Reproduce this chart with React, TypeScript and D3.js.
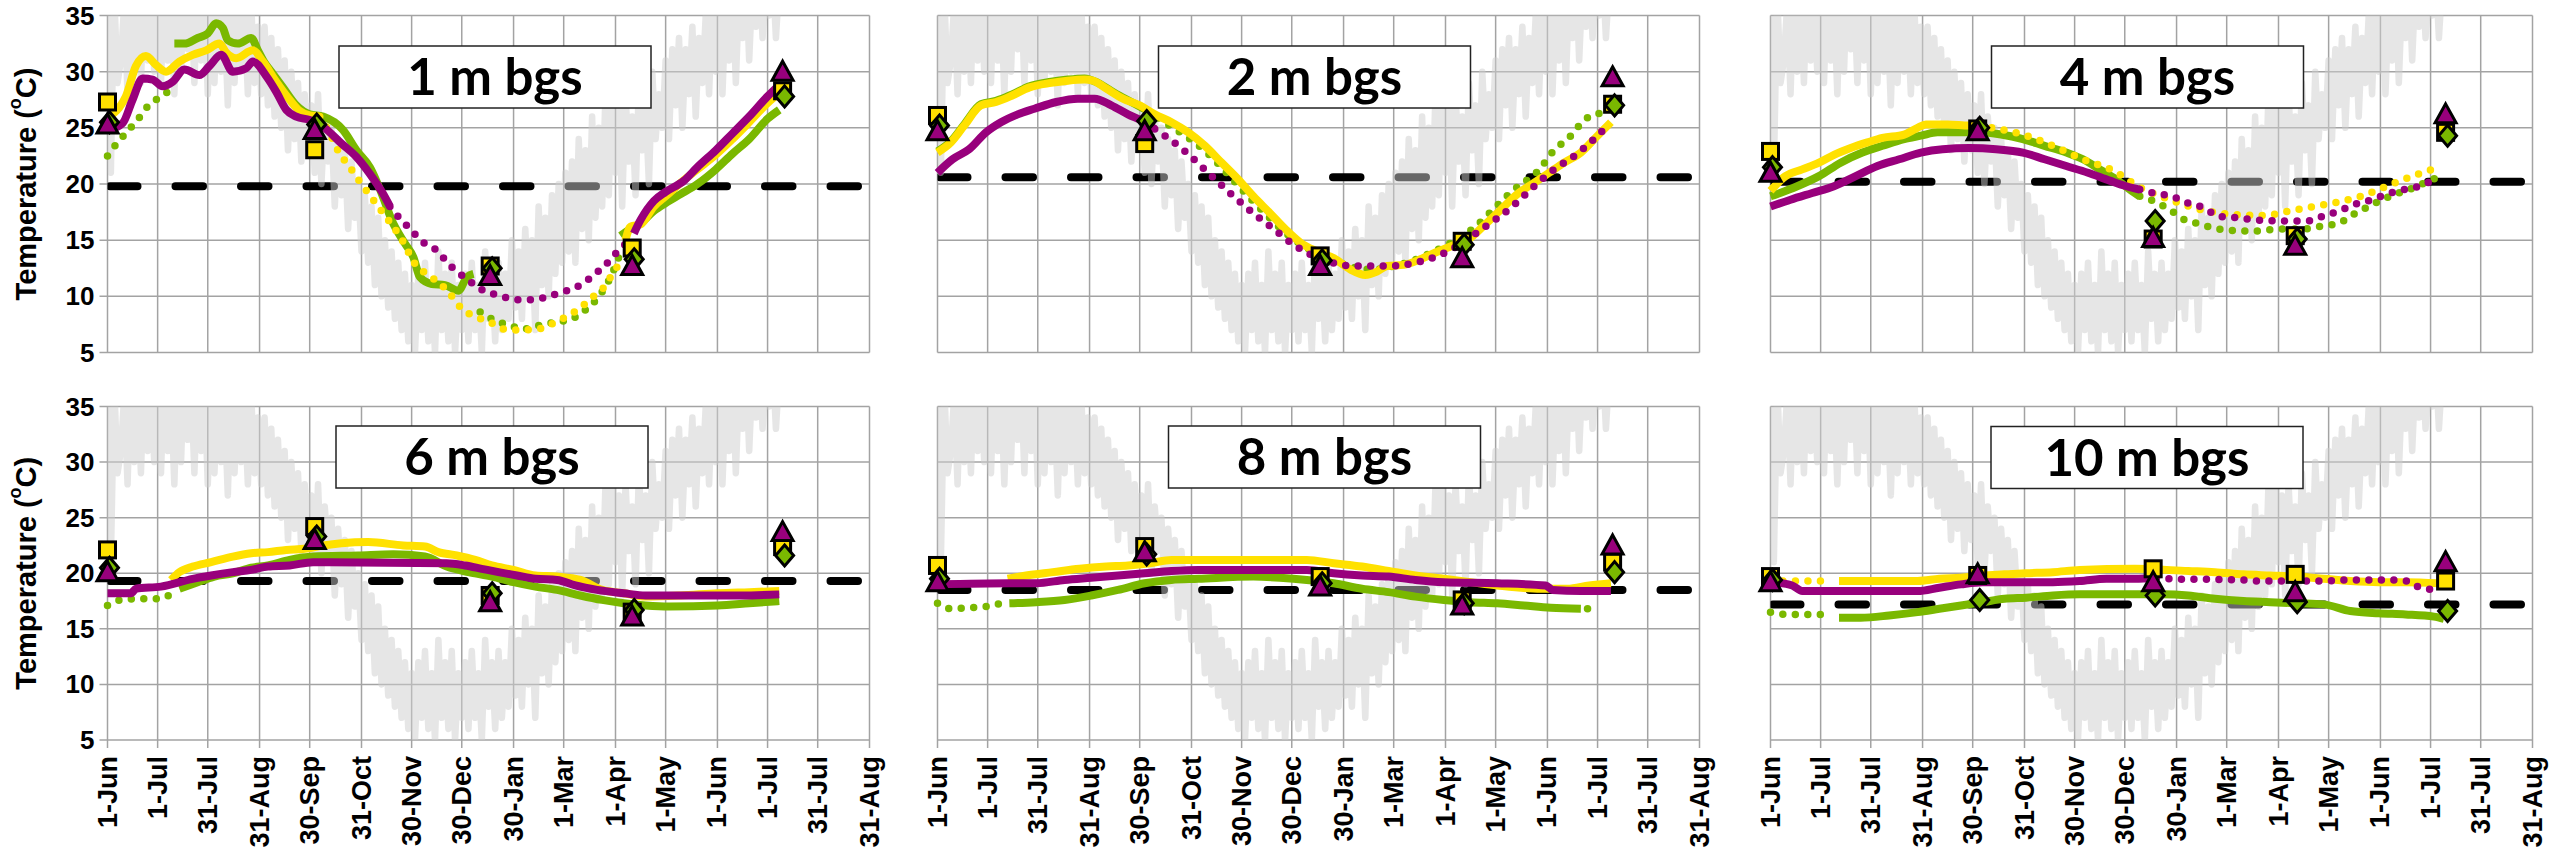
import React from "react";
import * as d3 from "d3";

type Pt = [string, number];

// ---------- shared axes ----------
const DOMAIN_START = "2014-06-01";
const DOMAIN_END = "2015-08-31";
const xTickDates = [
  "2014-06-01", "2014-07-01", "2014-07-31", "2014-08-31", "2014-09-30", "2014-10-31",
  "2014-11-30", "2014-12-30", "2015-01-30", "2015-03-01", "2015-04-01", "2015-05-01",
  "2015-06-01", "2015-07-01", "2015-07-31", "2015-08-31",
];
const yTicks = [5, 10, 15, 20, 25, 30, 35];
const panelTitles = ["1 m bgs", "2 m bgs", "4 m bgs", "6 m bgs", "8 m bgs", "10 m bgs"];
const dashLevels = [19.8, 20.6, 20.2, 19.3, 18.5, 17.2];
const markerDates = ["2014-06-01", "2014-10-03", "2015-01-16", "2015-04-11", "2015-07-10"];

// ---------- air temperature (sampled every 2 days from 1 Jun 2014) ----------
const airStart = "2014-06-01";
const airStepDays = 2;
const airTemp = [
  35, 21, 37, 29, 31, 36, 28, 38, 30, 37, 29, 38, 31, 36, 30,
  37, 29, 38, 31, 36, 28, 38, 30, 39, 32, 37, 29, 38, 31, 37, 28,
  36, 29, 37, 30, 35, 27, 37, 29, 36, 30, 35, 28, 36, 29, 34,
  28, 34, 27, 33, 26, 32, 25, 31, 23, 30, 24, 29, 22, 28, 23,
  27, 21, 28, 20, 26, 22, 25, 18, 24, 19, 23, 16, 22, 17, 20, 14,
  19, 13, 18, 11, 17, 10, 15, 9, 14, 8, 13, 7, 12, 6, 11,
  5, 12, 7, 13, 6, 11, 5, 14, 7, 12, 6, 13, 5, 11, 7,
  12, 6, 13, 7, 11, 5, 14, 8, 12, 6, 13, 7, 12, 8, 15, 9,
  14, 8, 16, 10, 15, 7, 18, 11, 17, 10, 19, 12, 20, 13,
  21, 14, 22, 13, 24, 16, 23, 15, 26, 17, 25, 18, 28, 19, 30,
  21, 27, 18, 28, 22, 26, 19, 29, 23, 27, 20, 30, 24, 28, 25,
  31, 24, 32, 27, 33, 25, 32, 28, 34, 26, 33, 29, 35, 28, 36, 30,
  37, 28, 36, 31, 38, 29, 37, 33, 39, 31, 38, 34, 39, 33, 38,
  35, 39, 33, 38, 36,
];

// ---------- 1 m ----------
const m1YellowSolid: Pt[][] = [
  [["2014-06-01", 25.8], ["2014-06-04", 26.2], ["2014-06-08", 26.8], ["2014-06-12", 27.8], ["2014-06-18", 30.5], ["2014-06-24", 31.4], ["2014-06-30", 30.6], ["2014-07-06", 30.0], ["2014-07-14", 30.9], ["2014-07-22", 31.5], ["2014-07-30", 31.9], ["2014-08-07", 32.5], ["2014-08-11", 31.7], ["2014-08-17", 31.2], ["2014-08-27", 31.9], ["2014-09-02", 30.9], ["2014-09-10", 29.1], ["2014-09-18", 27.5], ["2014-09-24", 26.5], ["2014-09-30", 26.1], ["2014-10-06", 26.0]],
  [["2015-04-07", 15.0], ["2015-04-10", 16.2], ["2015-04-16", 16.4], ["2015-04-24", 18.0], ["2015-05-01", 18.9], ["2015-05-10", 20.1], ["2015-05-20", 21.3], ["2015-05-31", 22.6], ["2015-06-10", 24.0], ["2015-06-20", 25.5], ["2015-07-01", 27.2], ["2015-07-08", 28.1]],
];
const m1YellowDotted: Pt[][] = [
  [["2014-10-06", 26.0], ["2014-10-11", 24.8], ["2014-10-18", 22.7], ["2014-10-24", 21.5], ["2014-10-30", 20.2], ["2014-11-10", 18.0], ["2014-11-16", 16.8], ["2014-11-24", 15.1], ["2014-12-02", 12.9], ["2014-12-10", 11.9], ["2014-12-18", 11.0], ["2014-12-23", 10.2], ["2014-12-30", 8.9], ["2015-01-07", 8.2], ["2015-01-16", 7.7], ["2015-01-24", 7.1], ["2015-02-04", 7.0], ["2015-02-14", 7.1], ["2015-02-24", 7.7], ["2015-03-04", 8.3], ["2015-03-12", 9.1], ["2015-03-18", 9.9], ["2015-03-25", 10.8], ["2015-03-31", 12.2], ["2015-04-06", 13.5]],
];
const m1GreenSolid: Pt[][] = [
  [["2014-07-11", 32.5], ["2014-07-17", 32.5], ["2014-07-25", 33.0], ["2014-07-31", 33.4], ["2014-08-05", 34.3], ["2014-08-09", 33.9], ["2014-08-12", 32.8], ["2014-08-18", 32.5], ["2014-08-26", 33.0], ["2014-08-30", 31.9], ["2014-09-03", 30.8], ["2014-09-07", 30.0], ["2014-09-14", 28.6], ["2014-09-22", 27.0], ["2014-09-30", 26.2], ["2014-10-08", 26.0], ["2014-10-20", 24.8], ["2014-10-28", 23.0], ["2014-11-05", 21.5], ["2014-11-13", 18.8], ["2014-11-18", 16.8], ["2014-11-26", 14.7], ["2014-12-01", 13.5], ["2014-12-05", 11.7], ["2014-12-12", 11.1], ["2014-12-20", 11.0], ["2014-12-28", 10.5], ["2015-01-02", 11.7], ["2015-01-06", 12.0]],
  [["2015-04-04", 15.4], ["2015-04-10", 16.0], ["2015-04-16", 16.5], ["2015-04-24", 17.6], ["2015-05-01", 18.3], ["2015-05-10", 19.1], ["2015-05-20", 20.0], ["2015-05-31", 21.3], ["2015-06-10", 22.7], ["2015-06-20", 24.0], ["2015-07-01", 25.8], ["2015-07-08", 26.6]],
];
const m1GreenDotted: Pt[][] = [
  [["2014-06-01", 22.5], ["2014-06-06", 23.5], ["2014-06-13", 24.7], ["2014-06-19", 25.7], ["2014-06-25", 26.9], ["2014-07-02", 27.7], ["2014-07-09", 28.4]],
  [["2015-01-10", 8.6], ["2015-01-18", 7.9], ["2015-01-28", 7.4], ["2015-02-05", 7.1], ["2015-02-14", 7.4], ["2015-02-24", 7.7], ["2015-03-06", 8.0], ["2015-03-14", 8.8], ["2015-03-21", 9.8], ["2015-03-29", 11.7], ["2015-04-03", 13.5]],
];
const m1PurpleSolid: Pt[][] = [
  [["2014-06-01", 25.1], ["2014-06-04", 25.0], ["2014-06-10", 25.4], ["2014-06-16", 27.5], ["2014-06-22", 29.4], ["2014-06-28", 29.3], ["2014-07-04", 28.7], ["2014-07-10", 29.1], ["2014-07-17", 30.2], ["2014-07-26", 29.7], ["2014-08-01", 30.5], ["2014-08-08", 31.5], ["2014-08-15", 30.0], ["2014-08-23", 30.3], ["2014-08-27", 30.9], ["2014-09-04", 29.6], ["2014-09-10", 28.2], ["2014-09-16", 26.6], ["2014-09-22", 26.0], ["2014-09-30", 25.7], ["2014-10-08", 25.1], ["2014-10-19", 23.6], ["2014-10-28", 22.4], ["2014-11-05", 20.9], ["2014-11-13", 19.1], ["2014-11-17", 18.0]],
  [["2015-04-12", 15.6], ["2015-04-16", 16.8], ["2015-04-24", 18.5], ["2015-05-01", 19.3], ["2015-05-12", 20.3], ["2015-05-20", 21.5], ["2015-05-31", 23.0], ["2015-06-10", 24.5], ["2015-06-20", 26.0], ["2015-07-01", 27.8], ["2015-07-08", 28.8]],
];
const m1PurpleDotted: Pt[][] = [
  [["2014-11-17", 18.0], ["2014-11-22", 17.1], ["2014-11-29", 16.0], ["2014-12-07", 14.8], ["2014-12-15", 14.1], ["2014-12-22", 12.9], ["2014-12-29", 12.0], ["2015-01-06", 11.1], ["2015-01-12", 10.5], ["2015-01-21", 10.1], ["2015-02-01", 9.7], ["2015-02-11", 9.7], ["2015-02-22", 10.1], ["2015-03-03", 10.5], ["2015-03-12", 11.1], ["2015-03-19", 11.9], ["2015-03-26", 12.8], ["2015-04-01", 13.8], ["2015-04-08", 14.8]],
];
const m1Square = [27.3, 23.05, 12.7, 14.3, 28.3];
const m1Diamond = [25.5, 25.3, 12.5, 13.3, 27.8];
const m1Triangle = [25.3, 24.8, 11.8, 12.7, 30.0];

// ---------- 2 m ----------
const m2YellowSolid: Pt[][] = [
  [["2014-06-01", 22.8], ["2014-06-09", 23.7], ["2014-06-17", 25.2], ["2014-06-27", 27.0], ["2014-07-06", 27.3], ["2014-07-16", 27.9], ["2014-07-26", 28.6], ["2014-08-08", 29.0], ["2014-08-18", 29.2], ["2014-08-28", 29.3], ["2014-09-02", 29.2], ["2014-09-10", 28.5], ["2014-09-20", 27.6], ["2014-09-30", 27.0], ["2014-10-09", 26.2], ["2014-10-19", 25.5], ["2014-10-29", 24.6], ["2014-11-08", 23.4], ["2014-11-18", 21.9], ["2014-11-28", 20.4], ["2014-12-07", 18.9], ["2014-12-17", 17.4], ["2014-12-26", 16.0], ["2015-01-04", 14.8], ["2015-01-14", 14.0], ["2015-01-24", 13.4], ["2015-02-03", 12.4], ["2015-02-12", 11.9], ["2015-02-19", 12.2], ["2015-02-25", 12.7], ["2015-03-07", 12.8], ["2015-03-17", 13.3], ["2015-03-26", 13.9], ["2015-04-05", 14.5], ["2015-04-15", 15.1], ["2015-04-24", 16.3], ["2015-05-04", 17.7], ["2015-05-14", 19.1], ["2015-05-24", 20.1], ["2015-06-02", 21.0], ["2015-06-11", 21.9], ["2015-06-21", 22.8], ["2015-07-01", 24.3], ["2015-07-09", 25.5]],
];
const m2YellowDotted: Pt[][] = [];
const m2GreenSolid: Pt[][] = [
  [["2014-06-01", 22.9], ["2014-06-09", 23.8], ["2014-06-17", 25.3], ["2014-06-27", 27.1], ["2014-07-06", 27.4], ["2014-07-16", 28.0], ["2014-07-26", 28.7], ["2014-08-08", 29.1], ["2014-08-18", 29.3], ["2014-08-28", 29.4], ["2014-09-05", 29.0], ["2014-09-15", 28.1], ["2014-09-25", 27.3], ["2014-10-05", 26.5]],
];
const m2GreenDotted: Pt[][] = [
  [["2014-10-05", 26.5], ["2014-10-20", 25.0], ["2014-11-01", 23.8], ["2014-11-12", 22.4], ["2014-11-24", 20.5], ["2014-12-06", 18.6], ["2014-12-18", 16.8], ["2014-12-30", 15.2], ["2015-01-12", 14.0], ["2015-01-24", 13.2], ["2015-02-05", 12.6], ["2015-02-17", 12.4], ["2015-03-01", 12.7], ["2015-03-13", 13.2], ["2015-03-25", 14.0], ["2015-04-06", 14.9], ["2015-04-18", 16.1], ["2015-04-30", 17.8], ["2015-05-12", 19.5], ["2015-05-22", 20.6], ["2015-05-28", 21.4], ["2015-06-02", 22.5], ["2015-06-08", 23.4], ["2015-06-15", 24.3], ["2015-06-20", 25.2], ["2015-06-26", 26.0], ["2015-07-03", 26.3]],
];
const m2PurpleSolid: Pt[][] = [
  [["2014-06-01", 21.0], ["2014-06-10", 22.2], ["2014-06-20", 23.1], ["2014-06-30", 24.6], ["2014-07-09", 25.5], ["2014-07-19", 26.2], ["2014-07-29", 26.7], ["2014-08-11", 27.3], ["2014-08-24", 27.6], ["2014-09-03", 27.6], ["2014-09-13", 27.0], ["2014-09-23", 26.2], ["2014-10-03", 25.5], ["2014-10-09", 24.9]],
];
const m2PurpleDotted: Pt[][] = [
  [["2014-10-09", 24.9], ["2014-10-15", 24.3], ["2014-10-28", 22.8], ["2014-11-10", 21.0], ["2014-11-23", 19.2], ["2014-12-07", 17.4], ["2014-12-20", 15.9], ["2015-01-01", 14.5], ["2015-01-17", 13.3], ["2015-02-06", 12.7], ["2015-02-25", 12.7], ["2015-03-17", 13.1], ["2015-04-05", 14.2], ["2015-04-21", 15.8], ["2015-05-11", 18.0], ["2015-05-24", 19.8], ["2015-06-05", 21.3], ["2015-06-18", 22.6], ["2015-07-01", 24.3], ["2015-07-07", 25.2]],
];
const m2Square = [26.1, 23.6, 13.6, 14.9, 27.1];
const m2Diamond = [25.2, 25.6, 13.2, 14.6, 27.0];
const m2Triangle = [24.7, 24.7, 12.7, 13.4, 29.5];

// ---------- 4 m ----------
const m3YellowSolid: Pt[][] = [
  [["2014-06-01", 19.4], ["2014-06-10", 20.7], ["2014-06-20", 21.3], ["2014-06-30", 21.9], ["2014-07-09", 22.6], ["2014-07-19", 23.2], ["2014-07-29", 23.7], ["2014-08-07", 24.1], ["2014-08-20", 24.4], ["2014-08-28", 25.0], ["2014-09-02", 25.3], ["2014-09-15", 25.3], ["2014-09-28", 25.2], ["2014-10-04", 25.2]],
];
const m3YellowDotted: Pt[][] = [
  [["2014-10-04", 25.2], ["2014-10-12", 25.0], ["2014-10-30", 24.4], ["2014-11-17", 23.4], ["2014-12-05", 22.2], ["2014-12-23", 21.2], ["2015-01-08", 19.7], ["2015-01-26", 18.6], ["2015-02-14", 17.7], ["2015-03-04", 17.3], ["2015-03-23", 17.2], ["2015-04-11", 17.7], ["2015-04-30", 18.2], ["2015-05-20", 18.9], ["2015-06-08", 20.0], ["2015-06-24", 20.9], ["2015-07-02", 21.3]],
];
const m3GreenSolid: Pt[][] = [
  [["2014-06-01", 18.9], ["2014-06-17", 19.8], ["2014-06-30", 20.7], ["2014-07-13", 21.9], ["2014-07-26", 22.8], ["2014-08-07", 23.4], ["2014-08-20", 24.0], ["2014-08-30", 24.3], ["2014-09-09", 24.6], ["2014-10-04", 24.6], ["2014-10-17", 24.4], ["2014-10-30", 24.0], ["2014-11-12", 23.4], ["2014-11-25", 22.8], ["2014-12-05", 22.2], ["2014-12-15", 21.3], ["2014-12-25", 20.4], ["2015-01-03", 19.4], ["2015-01-08", 18.9]],
];
const m3GreenDotted: Pt[][] = [
  [["2015-01-08", 18.9], ["2015-01-16", 18.5], ["2015-01-26", 17.7], ["2015-02-04", 16.8], ["2015-02-14", 16.4], ["2015-02-23", 16.0], ["2015-03-15", 15.8], ["2015-04-03", 16.0], ["2015-04-16", 16.0], ["2015-04-27", 16.25], ["2015-05-07", 16.5], ["2015-05-17", 17.4], ["2015-05-25", 18.0], ["2015-06-02", 18.6], ["2015-06-10", 19.1], ["2015-06-18", 19.5], ["2015-06-26", 20.0], ["2015-07-02", 20.4], ["2015-07-09", 20.7]],
];
const m3PurpleSolid: Pt[][] = [
  [["2014-06-01", 18.0], ["2014-06-13", 18.6], ["2014-06-26", 19.2], ["2014-07-09", 19.8], ["2014-07-22", 20.7], ["2014-08-04", 21.6], ["2014-08-17", 22.2], ["2014-08-30", 22.8], ["2014-09-12", 23.1], ["2014-09-28", 23.2], ["2014-10-14", 23.1], ["2014-10-30", 22.8], ["2014-11-12", 22.2], ["2014-11-25", 21.6], ["2014-12-08", 21.0], ["2014-12-21", 20.3], ["2014-12-31", 19.8], ["2015-01-08", 19.5]],
];
const m3PurpleDotted: Pt[][] = [
  [["2015-01-08", 19.5], ["2015-01-16", 19.2], ["2015-01-27", 18.9], ["2015-02-06", 18.3], ["2015-02-15", 17.9], ["2015-02-25", 17.1], ["2015-03-08", 17.0], ["2015-03-18", 16.8], ["2015-04-08", 16.7], ["2015-04-18", 16.7], ["2015-04-27", 17.1], ["2015-05-07", 17.6], ["2015-05-17", 18.2], ["2015-05-27", 18.6], ["2015-06-05", 19.1], ["2015-06-15", 19.5], ["2015-06-24", 19.8], ["2015-07-02", 20.3]],
];
const m3Square = [22.9, 24.9, 15.1, 15.4, 24.6];
const m3Diamond = [21.5, 25.0, 16.7, 15.1, 24.3];
const m3Triangle = [21.0, 24.7, 15.2, 14.5, 26.2];

// ---------- 6 m ----------
const m4YellowSolid: Pt[][] = [
  [["2014-07-09", 19.4], ["2014-07-14", 20.1], ["2014-07-22", 20.6], ["2014-08-02", 21.0], ["2014-08-15", 21.5], ["2014-08-26", 21.8], ["2014-09-05", 21.9], ["2014-09-16", 22.1], ["2014-09-27", 22.2], ["2014-10-08", 22.5], ["2014-10-19", 22.7], ["2014-11-04", 22.8], ["2014-11-25", 22.5], ["2014-12-08", 22.4], ["2014-12-16", 21.9], ["2014-12-27", 21.6], ["2015-01-07", 21.2], ["2015-01-17", 20.7], ["2015-01-30", 20.3], ["2015-02-12", 19.8], ["2015-02-25", 19.7], ["2015-03-11", 19.4], ["2015-03-24", 18.5], ["2015-04-06", 18.2], ["2015-04-19", 17.9], ["2015-05-10", 18.0], ["2015-06-01", 18.2], ["2015-06-20", 18.3], ["2015-07-08", 18.4]],
];
const m4YellowDotted: Pt[][] = [];
const m4GreenSolid: Pt[][] = [
  [["2014-07-14", 18.6], ["2014-07-25", 19.2], ["2014-08-04", 19.7], ["2014-08-15", 20.0], ["2014-08-26", 20.5], ["2014-09-05", 20.7], ["2014-09-18", 21.2], ["2014-10-02", 21.5], ["2014-10-29", 21.6], ["2014-11-19", 21.7], ["2014-12-08", 21.5], ["2014-12-21", 20.6], ["2015-01-03", 20.1], ["2015-01-17", 19.7], ["2015-01-30", 19.2], ["2015-02-12", 18.8], ["2015-02-25", 18.5], ["2015-03-11", 18.0], ["2015-03-24", 17.6], ["2015-04-06", 17.3], ["2015-04-19", 17.1], ["2015-05-03", 17.0], ["2015-06-01", 17.1], ["2015-06-20", 17.3], ["2015-07-08", 17.5]],
];
const m4GreenDotted: Pt[][] = [
  [["2014-06-01", 17.1], ["2014-06-09", 17.6], ["2014-06-19", 17.7], ["2014-07-01", 17.7], ["2014-07-10", 18.2]],
];
const m4PurpleSolid: Pt[][] = [
  [["2014-06-01", 18.2], ["2014-06-15", 18.2], ["2014-06-18", 18.6], ["2014-07-03", 18.8], ["2014-07-22", 19.5], ["2014-08-02", 19.8], ["2014-08-15", 20.1], ["2014-08-26", 20.3], ["2014-09-05", 20.6], ["2014-09-18", 20.7], ["2014-10-02", 21.0], ["2014-12-21", 20.9], ["2015-01-01", 20.7], ["2015-01-11", 20.4], ["2015-01-21", 20.1], ["2015-02-01", 19.8], ["2015-02-12", 19.5], ["2015-02-25", 19.4], ["2015-03-08", 18.9], ["2015-03-21", 18.5], ["2015-04-06", 18.2], ["2015-04-19", 18.0], ["2015-05-15", 18.0], ["2015-06-15", 18.0], ["2015-07-08", 18.1]],
];
const m4PurpleDotted: Pt[][] = [];
const m4Square = [22.1, 24.2, 18.0, 16.5, 22.4];
const m4Diamond = [20.5, 23.3, 18.2, 16.7, 21.6];
const m4Triangle = [20.1, 23.0, 17.4, 16.1, 23.7];

// ---------- 8 m ----------
const m5YellowSolid: Pt[][] = [
  [["2014-07-13", 19.5], ["2014-07-24", 19.8], ["2014-08-09", 20.1], ["2014-08-25", 20.4], ["2014-09-10", 20.6], ["2014-09-23", 20.7], ["2014-10-06", 20.9], ["2014-10-19", 21.2], ["2015-01-08", 21.2], ["2015-01-24", 20.9], ["2015-02-10", 20.6], ["2015-02-26", 20.2], ["2015-03-14", 19.8], ["2015-03-31", 19.5], ["2015-04-16", 19.2], ["2015-05-02", 18.9], ["2015-05-28", 18.6], ["2015-06-13", 18.6], ["2015-06-26", 18.9], ["2015-07-09", 19.1]],
];
const m5YellowDotted: Pt[][] = [];
const m5GreenSolid: Pt[][] = [
  [["2014-07-14", 17.3], ["2014-07-30", 17.4], ["2014-08-16", 17.6], ["2014-09-01", 18.0], ["2014-09-17", 18.5], ["2014-10-03", 19.1], ["2014-10-19", 19.4], ["2014-11-04", 19.5], ["2014-12-07", 19.7], ["2014-12-23", 19.6], ["2015-01-08", 19.4], ["2015-01-24", 19.1], ["2015-02-10", 18.6], ["2015-02-26", 18.3], ["2015-03-14", 17.9], ["2015-03-31", 17.6], ["2015-04-16", 17.4], ["2015-05-02", 17.3], ["2015-05-18", 17.1], ["2015-06-03", 16.9], ["2015-06-21", 16.8]],
];
const m5GreenDotted: Pt[][] = [
  [["2014-06-01", 17.3], ["2014-06-09", 16.8], ["2014-06-20", 16.9], ["2014-06-30", 17.0], ["2014-07-09", 17.3]],
  [["2015-06-25", 16.8], ["2015-07-01", 17.3]],
];
const m5PurpleSolid: Pt[][] = [
  [["2014-06-01", 19.0], ["2014-07-14", 19.1], ["2014-07-30", 19.1], ["2014-08-16", 19.4], ["2014-09-01", 19.6], ["2014-09-17", 19.8], ["2014-10-03", 20.0], ["2014-10-19", 20.2], ["2014-11-04", 20.3], ["2015-01-08", 20.3], ["2015-01-24", 20.0], ["2015-02-10", 19.8], ["2015-02-26", 19.7], ["2015-03-14", 19.4], ["2015-03-31", 19.2], ["2015-05-02", 19.1], ["2015-05-31", 18.9], ["2015-06-04", 18.5], ["2015-06-21", 18.4], ["2015-07-09", 18.4]],
];
const m5PurpleDotted: Pt[][] = [];
const m5Square = [20.7, 22.4, 19.7, 17.6, 21.0];
const m5Diamond = [19.5, 21.7, 19.1, 17.3, 20.1];
const m5Triangle = [19.2, 21.9, 18.8, 17.1, 22.5];

// ---------- 10 m ----------
const m6YellowSolid: Pt[][] = [
  [["2014-07-12", 19.3], ["2014-08-28", 19.3], ["2014-09-10", 19.5], ["2014-09-23", 19.6], ["2014-10-06", 19.8], ["2014-10-19", 19.9], ["2014-11-01", 20.0], ["2014-11-17", 20.1], ["2014-12-03", 20.3], ["2015-01-05", 20.4], ["2015-02-06", 20.2], ["2015-02-22", 20.1], ["2015-03-11", 19.9], ["2015-03-27", 19.8], ["2015-04-12", 19.7], ["2015-04-28", 19.5], ["2015-05-14", 19.3], ["2015-05-31", 19.2], ["2015-06-16", 19.2], ["2015-07-06", 19.1]],
];
const m6YellowDotted: Pt[][] = [
  [["2014-06-01", 19.4], ["2014-06-07", 19.3], ["2014-06-23", 19.3], ["2014-07-05", 19.3]],
];
const m6GreenSolid: Pt[][] = [
  [["2014-07-12", 16.0], ["2014-07-25", 16.0], ["2014-08-11", 16.2], ["2014-08-28", 16.5], ["2014-09-10", 16.8], ["2014-09-23", 17.1], ["2014-10-06", 17.4], ["2014-10-19", 17.7], ["2014-11-01", 17.8], ["2014-11-17", 18.0], ["2014-12-03", 18.1], ["2015-01-21", 18.1], ["2015-02-06", 18.0], ["2015-02-22", 17.7], ["2015-03-11", 17.5], ["2015-03-27", 17.4], ["2015-04-12", 17.3], ["2015-04-28", 17.2], ["2015-05-14", 16.6], ["2015-05-31", 16.4], ["2015-06-16", 16.3], ["2015-07-03", 16.1], ["2015-07-09", 15.9]],
];
const m6GreenDotted: Pt[][] = [
  [["2014-06-01", 16.5], ["2014-06-10", 16.3], ["2014-06-22", 16.3], ["2014-07-05", 16.3]],
];
const m6PurpleSolid: Pt[][] = [
  [["2014-06-01", 19.2], ["2014-06-14", 18.9], ["2014-06-20", 18.4], ["2014-08-28", 18.4], ["2014-09-10", 18.7], ["2014-09-23", 19.0], ["2014-10-06", 19.2], ["2014-11-17", 19.2], ["2014-12-03", 19.3], ["2014-12-19", 19.5], ["2015-01-05", 19.5], ["2015-01-18", 19.6]],
];
const m6PurpleDotted: Pt[][] = [
  [["2015-01-18", 19.6], ["2015-01-24", 19.5], ["2015-03-11", 19.4], ["2015-03-21", 19.3], ["2015-04-01", 19.3], ["2015-04-25", 19.3], ["2015-05-15", 19.4], ["2015-06-06", 19.4], ["2015-06-17", 19.3], ["2015-06-25", 18.7], ["2015-07-06", 18.5]],
];
const m6Square = [19.7, 19.8, 20.4, 19.9, 19.3];
const m6Diamond = [19.4, 17.6, 18.0, 17.4, 16.6];
const m6Triangle = [19.2, 19.9, 19.2, 18.3, 21.0];

// ---------- drawing ----------
const YELLOW = "#FFE100";
const GREEN = "#7AB800";
const PURPLE = "#98007C";
const GRID = "#a3a3a3";
const TICK_FONT = "'Liberation Sans', Arial, sans-serif";

const parseDate = d3.timeParse("%Y-%m-%d");
const fmtTick = d3.timeFormat("%-d-%b");

const COL_X = [107.5, 937.5, 1770.5];
const PLOT_W = 762;
const ROW_Y = [
  { top: 15.5, bottom: 352.5 },
  { top: 406.5, bottom: 740 },
];
// title box offsets inside each plot (left, top)
const BOX_OFFSET = [
  [231.5, 30.5], [221, 30.5], [221, 30.5],
  [228.5, 19.5], [231, 19.5], [220.5, 20],
];
const BOX_W = 312;
const BOX_H = 62;

interface PanelData {
  yellowSolid: Pt[][]; yellowDotted: Pt[][];
  greenSolid: Pt[][]; greenDotted: Pt[][];
  purpleSolid: Pt[][]; purpleDotted: Pt[][];
  square: number[]; diamond: number[]; triangle: number[];
}

const panels: PanelData[] = [
  { yellowSolid: m1YellowSolid, yellowDotted: m1YellowDotted, greenSolid: m1GreenSolid, greenDotted: m1GreenDotted, purpleSolid: m1PurpleSolid, purpleDotted: m1PurpleDotted, square: m1Square, diamond: m1Diamond, triangle: m1Triangle },
  { yellowSolid: m2YellowSolid, yellowDotted: m2YellowDotted, greenSolid: m2GreenSolid, greenDotted: m2GreenDotted, purpleSolid: m2PurpleSolid, purpleDotted: m2PurpleDotted, square: m2Square, diamond: m2Diamond, triangle: m2Triangle },
  { yellowSolid: m3YellowSolid, yellowDotted: m3YellowDotted, greenSolid: m3GreenSolid, greenDotted: m3GreenDotted, purpleSolid: m3PurpleSolid, purpleDotted: m3PurpleDotted, square: m3Square, diamond: m3Diamond, triangle: m3Triangle },
  { yellowSolid: m4YellowSolid, yellowDotted: m4YellowDotted, greenSolid: m4GreenSolid, greenDotted: m4GreenDotted, purpleSolid: m4PurpleSolid, purpleDotted: m4PurpleDotted, square: m4Square, diamond: m4Diamond, triangle: m4Triangle },
  { yellowSolid: m5YellowSolid, yellowDotted: m5YellowDotted, greenSolid: m5GreenSolid, greenDotted: m5GreenDotted, purpleSolid: m5PurpleSolid, purpleDotted: m5PurpleDotted, square: m5Square, diamond: m5Diamond, triangle: m5Triangle },
  { yellowSolid: m6YellowSolid, yellowDotted: m6YellowDotted, greenSolid: m6GreenSolid, greenDotted: m6GreenDotted, purpleSolid: m6PurpleSolid, purpleDotted: m6PurpleDotted, square: m6Square, diamond: m6Diamond, triangle: m6Triangle },
];

const airStartDate = parseDate(airStart) as Date;
const airSeries: [Date, number][] = airTemp.map((v, i) => [d3.timeDay.offset(airStartDate, i * airStepDays), v]);

function Panel({ index }: { index: number }) {
  const col = index % 3;
  const row = Math.floor(index / 3);
  const x0 = COL_X[col];
  const { top, bottom } = ROW_Y[row];
  const data = panels[index];

  const x = d3.scaleTime()
    .domain([parseDate(DOMAIN_START) as Date, parseDate(DOMAIN_END) as Date])
    .range([x0, x0 + PLOT_W]);
  const y = d3.scaleLinear().domain([5, 35]).range([bottom, top]);

  const line = d3.line<Pt>()
    .x((p) => x(parseDate(p[0]) as Date))
    .y((p) => y(p[1]))
    .curve(d3.curveMonotoneX);
  const airLine = d3.line<[Date, number]>()
    .x((p) => x(p[0]))
    .y((p) => y(p[1]));

  const clipId = `plot-clip-${index}`;
  const tickDates = xTickDates.map((s) => parseDate(s) as Date);
  const mDates = markerDates.map((s) => parseDate(s) as Date);

  const solid = (runs: Pt[][], color: string, key: string) =>
    runs.map((r, i) => (
      <path key={`${key}${i}`} d={line(r) || ""} fill="none" stroke={color}
        strokeWidth={8} strokeLinejoin="round" strokeLinecap="butt" />
    ));
  const dotted = (runs: Pt[][], color: string, key: string) =>
    runs.map((r, i) => (
      <path key={`${key}${i}`} d={line(r) || ""} fill="none" stroke={color}
        strokeWidth={7.5} strokeLinecap="round" strokeDasharray="0 12.5" />
    ));

  const [bx, by] = BOX_OFFSET[index];

  return (
    <g>
      <defs>
        <clipPath id={clipId}>
          <rect x={x0} y={top} width={PLOT_W} height={bottom - top} />
        </clipPath>
      </defs>

      {/* gridlines */}
      {yTicks.map((t) => (
        <line key={`h${t}`} x1={col === 0 ? x0 - 8 : x0} x2={x0 + PLOT_W} y1={y(t)} y2={y(t)}
          stroke={GRID} strokeWidth={1.5} />
      ))}
      {tickDates.map((d, i) => (
        <line key={`v${i}`} x1={x(d)} x2={x(d)} y1={top} y2={row === 1 ? bottom + 8 : bottom}
          stroke={GRID} strokeWidth={1.5} />
      ))}

      {/* reference level */}
      <line x1={x0} x2={x0 + PLOT_W} y1={y(dashLevels[index])} y2={y(dashLevels[index])}
        stroke="#000" strokeWidth={8} strokeLinecap="round" strokeDasharray="27.5 38"
        strokeDashoffset={-2.5} clipPath={`url(#${clipId})`} />

      {/* air temperature */}
      <path d={airLine(airSeries) || ""} fill="none" stroke="#cdcdcd" strokeOpacity={0.5}
        strokeWidth={6.5} strokeLinejoin="round" clipPath={`url(#${clipId})`} />

      {/* ground temperature series */}
      {solid(data.greenSolid, GREEN, "gs")}
      {dotted(data.greenDotted, GREEN, "gd")}
      {solid(data.yellowSolid, YELLOW, "ys")}
      {dotted(data.yellowDotted, YELLOW, "yd")}
      {solid(data.purpleSolid, PURPLE, "ps")}
      {dotted(data.purpleDotted, PURPLE, "pd")}

      {/* measured points */}
      {mDates.map((d, i) => (
        <rect key={`sq${i}`} x={x(d) - 8} y={y(data.square[i]) - 8} width={16} height={16}
          fill={YELLOW} stroke="#000" strokeWidth={3} />
      ))}
      {mDates.map((d, i) => (
        <path key={`di${i}`} transform={`translate(${x(d) + 2},${y(data.diamond[i])})`}
          d="M0,-10.5 L9,0 L0,10.5 L-9,0 Z" fill={GREEN} stroke="#000" strokeWidth={3}
          strokeLinejoin="miter" />
      ))}
      {mDates.map((d, i) => (
        <path key={`tr${i}`} transform={`translate(${x(d)},${y(data.triangle[i])})`}
          d="M0,-10.5 L10.5,8.5 L-10.5,8.5 Z" fill={PURPLE} stroke="#000" strokeWidth={3}
          strokeLinejoin="miter" />
      ))}

      {/* title box */}
      <rect x={x0 + bx} y={top + by} width={BOX_W} height={BOX_H} fill="#fff" stroke="#222" strokeWidth={1.5} />
      <text x={x0 + bx + BOX_W / 2} y={top + by + BOX_H / 2 + 18} textAnchor="middle"
        fontFamily="Lato, 'Open Sans', sans-serif" fontWeight={700} fontSize={51} fill="#000">
        {panelTitles[index]}
      </text>

      {/* y axis labels */}
      {col === 0 && yTicks.map((t) => (
        <text key={`yl${t}`} x={x0 - 13} y={y(t)} textAnchor="end" dominantBaseline="central"
          fontFamily={TICK_FONT} fontWeight={700} fontSize={26} fill="#000">
          {t}
        </text>
      ))}
      {col === 0 && (
        <text transform={`translate(26,${(top + bottom) / 2}) rotate(-90)`} textAnchor="middle"
          dominantBaseline="central" fontFamily={TICK_FONT} fontWeight={700} fontSize={29} fill="#000">
          Temperature (<tspan fontSize={18} dy={-11}>o</tspan><tspan dy={11}>C)</tspan>
        </text>
      )}

      {/* x axis labels */}
      {row === 1 && tickDates.map((d, i) => (
        <text key={`xl${i}`} transform={`translate(${x(d)},${bottom + 16}) rotate(-90)`}
          textAnchor="end" dominantBaseline="central" fontFamily={TICK_FONT} fontWeight={700}
          fontSize={27} fill="#000">
          {fmtTick(d)}
        </text>
      ))}
    </g>
  );
}

export default function App() {
  return (
    <svg width={2552} height={859} viewBox="0 0 2552 859"
      style={{ position: "absolute", left: 0, top: 0, background: "#fff" }}>
      <rect x={0} y={0} width={2552} height={859} fill="#fff" />
      {panels.map((_, i) => <Panel key={i} index={i} />)}
    </svg>
  );
}
